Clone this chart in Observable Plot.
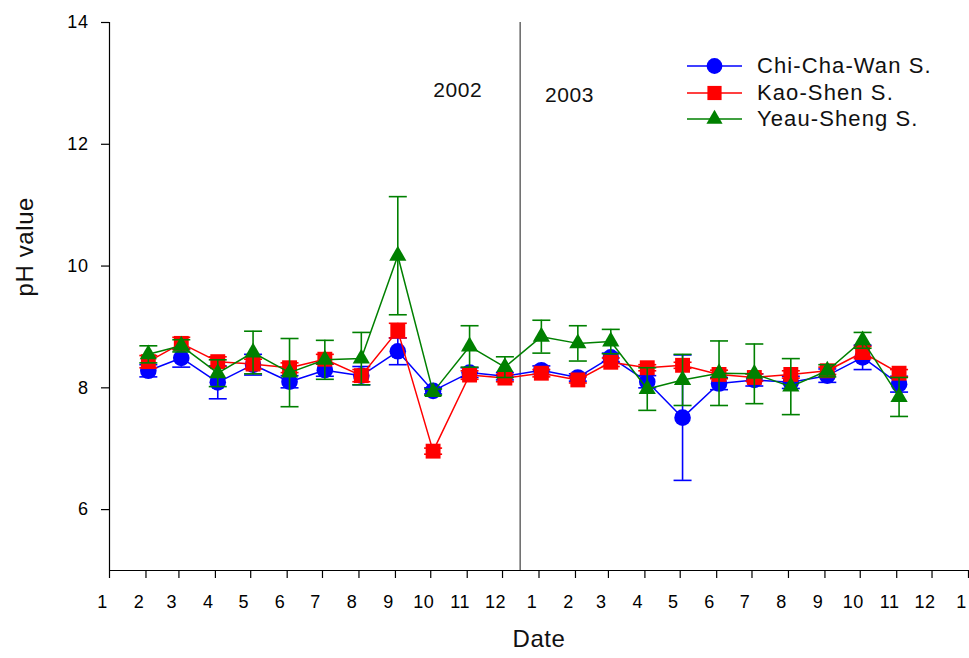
<!DOCTYPE html>
<html>
<head>
<meta charset="utf-8">
<script src="https://cdn.jsdelivr.net/npm/d3@7"></script>
<script src="https://cdn.jsdelivr.net/npm/@observablehq/plot@0.6"></script>
<style>
  html, body { margin: 0; padding: 0; background: #fff; }
  #wrap { position: relative; width: 969px; height: 658px; }
  #legend { position: absolute; left: 687px; top: 53px; font-family: 'Liberation Sans', Arial, sans-serif; font-size: 22px; letter-spacing: 0.05em; color: #111; }
  #legend .row { display: flex; align-items: center; height: 26.5px; }
  #legend svg { margin-right: 14px; }
</style>
</head>
<body>
<div id="wrap"><div id="chart"></div><div id="legend"></div></div>
<script>
// ---- data ----
const dates = [
  "2002-02-03","2002-03-03","2002-04-03","2002-05-03","2002-06-03","2002-07-03",
  "2002-08-03","2002-09-03","2002-10-03","2002-11-03","2002-12-03",
  "2003-01-03","2003-02-03","2003-03-03","2003-04-03","2003-05-03","2003-06-03",
  "2003-07-03","2003-08-03","2003-09-03","2003-10-03","2003-11-03"
];
const seriesNames = ["Chi-Cha-Wan S.", "Kao-Shen S.", "Yeau-Sheng S."];
const seriesColors = ["#0000ff", "#ff0000", "#008000"];
const seriesSymbols = ["circle", "square", "triangle"];

const chiChaWan    = [8.28, 8.49, 8.09, 8.38, 8.10, 8.29, 8.20, 8.60, 7.95, 8.25, 8.19, 8.29, 8.17, 8.50, 8.10, 7.51, 8.07, 8.13, 8.09, 8.20, 8.50, 8.06];
const chiChaWanErr = [0.10, 0.15, 0.27, 0.17, 0.10, 0.10, 0.15, 0.22, 0.05, 0.08, 0.06, 0.07, 0.06, 0.07, 0.10, 1.03, 0.10, 0.10, 0.10, 0.11, 0.20, 0.13];
const kaoShen      = [8.43, 8.73, 8.43, 8.39, 8.33, 8.47, 8.20, 8.94, 6.96, 8.21, 8.16, 8.24, 8.13, 8.42, 8.33, 8.37, 8.22, 8.17, 8.22, 8.28, 8.58, 8.24];
const kaoShenErr   = [0.10, 0.10, 0.08, 0.08, 0.08, 0.08, 0.10, 0.12, 0.05, 0.07, 0.06, 0.06, 0.05, 0.07, 0.05, 0.05, 0.07, 0.06, 0.06, 0.06, 0.10, 0.06];
const yeauSheng    = [8.55, 8.69, 8.24, 8.58, 8.25, 8.46, 8.48, 10.17, 7.93, 8.68, 8.34, 8.84, 8.73, 8.76, 7.98, 8.13, 8.24, 8.23, 8.02, 8.28, 8.78, 7.85];
const yeauShengErr = [0.14, 0.10, 0.22, 0.35, 0.56, 0.32, 0.43, 0.97, 0.05, 0.34, 0.17, 0.27, 0.29, 0.20, 0.35, 0.42, 0.53, 0.49, 0.46, 0.10, 0.13, 0.32];

const yTicks = [6, 8, 10, 12, 14];
const yearLabels = ["2002", "2003"];
const yearLabelDates = ["2002-10-24", "2003-01-27"];
const yearLabelValues = [12.88, 12.80];
const dividerDate = "2002-12-16";

// ---- build ----
const seriesValues = [chiChaWan, kaoShen, yeauSheng];
const seriesErrs = [chiChaWanErr, kaoShenErr, yeauShengErr];
const series = seriesNames.map((name, s) => ({
  name, color: seriesColors[s], symbol: seriesSymbols[s],
  rows: dates.map((d, i) => ({date: new Date(d), v: seriesValues[s][i], e: seriesErrs[s][i]}))
}));

const xStart = new Date(Date.UTC(2002, 0, 1));
const xEnd = new Date(Date.UTC(2004, 0, 1));
const monthTicks = d3.utcMonth.range(xStart, new Date(Date.UTC(2004, 0, 2)));

const cap = { draw(ctx, size) { const r = Math.sqrt(size / Math.PI); ctx.moveTo(-r, 0); ctx.lineTo(r, 0); } };
const symbolR = {circle: 8.3, square: 8.4, triangle: 6.4};

const marks = [
  Plot.ruleX([new Date(dividerDate)], {stroke: "#666", strokeWidth: 1.5}),
  Plot.ruleX([xStart], {stroke: "#000", strokeWidth: 1.2}),
  Plot.ruleY([5], {stroke: "#000", strokeWidth: 1.2}),
  Plot.axisY({ticks: yTicks, tickSize: 8, tickPadding: 13, fontSize: 18, label: null, strokeWidth: 1.2}),
  Plot.axisX({ticks: monthTicks, tickFormat: () => "", tickSize: 8, label: null, strokeWidth: 1.2}),
  Plot.axisX({ticks: monthTicks, tickFormat: d => d.getUTCMonth() + 1, tickSize: 0, tickPadding: 25, dx: -7, fontSize: 18, label: null}),
  Plot.text(["Date"], {frameAnchor: "bottom", dy: 76, fontSize: 24, fill: "#111"}),
  Plot.text(["pH value"], {frameAnchor: "left", rotate: -90, dx: -84, fontSize: 24, fill: "#111"}),
  Plot.text(yearLabels, {x: (d, i) => new Date(yearLabelDates[i]), y: (d, i) => yearLabelValues[i], text: d => d, fontSize: 21, fill: "#111"})
];
for (const s of series) {
  marks.push(
    Plot.line(s.rows, {x: "date", y: "v", stroke: s.color, strokeWidth: 1.5}),
    Plot.ruleX(s.rows, {x: "date", y1: d => d.v - d.e, y2: d => d.v + d.e, stroke: s.color, strokeWidth: 1.6}),
    Plot.dot(s.rows, {x: "date", y: d => d.v + d.e, symbol: cap, r: 9, fill: "none", stroke: s.color, strokeWidth: 1.6}),
    Plot.dot(s.rows, {x: "date", y: d => d.v - d.e, symbol: cap, r: 9, fill: "none", stroke: s.color, strokeWidth: 1.6}),
    Plot.dot(s.rows, {x: "date", y: "v", symbol: s.symbol, r: symbolR[s.symbol], fill: s.color, stroke: "none"})
  );
}

const chart = Plot.plot({
  width: 969, height: 658,
  marginLeft: 109, marginRight: 1, marginTop: 22, marginBottom: 88,
  style: {fontFamily: "'Liberation Sans', Arial, sans-serif", letterSpacing: "0.06em", color: "#000", background: "#fff", overflow: "visible"},
  x: {type: "utc", domain: [xStart, xEnd], axis: null},
  y: {domain: [5, 14], axis: null},
  marks
});
document.getElementById("chart").appendChild(chart);

// legend
const legend = d3.select("#legend");
for (const s of series) {
  const row = legend.append("div").attr("class", "row");
  const svg = row.append("svg").attr("width", 56).attr("height", 26);
  svg.append("line").attr("x1", 0).attr("x2", 55).attr("y1", 13).attr("y2", 13).attr("stroke", s.color).attr("stroke-width", 1.5);
  const sym = s.symbol === "circle" ? d3.symbolCircle : s.symbol === "square" ? d3.symbolSquare : d3.symbolTriangle;
  const r = symbolR[s.symbol] - 0.4;
  svg.append("path").attr("d", d3.symbol(sym, r * r * Math.PI)()).attr("transform", "translate(27.5,13)").attr("fill", s.color);
  row.append("span").text(s.name);
}
</script>
</body>
</html>
